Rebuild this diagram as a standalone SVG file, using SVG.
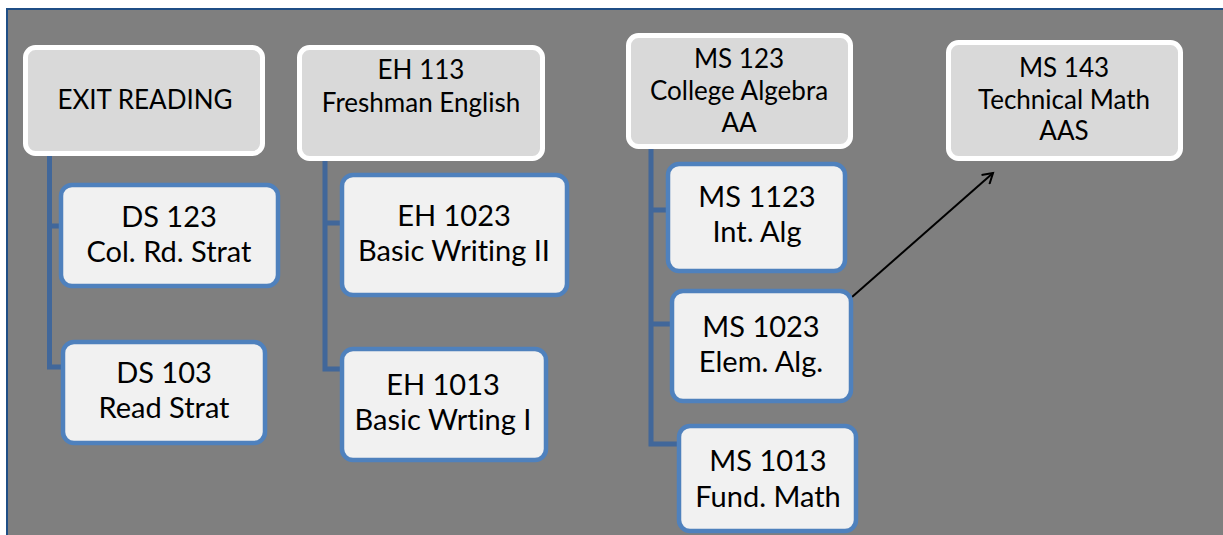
<svg xmlns="http://www.w3.org/2000/svg" width="1223" height="535" viewBox="0 0 1223 535">
<defs>
<style>
.parent rect{fill:#d9d9d9;stroke:#ffffff;stroke-width:5}
.child rect{fill:#f1f1f1;stroke:#4f81bd;stroke-width:4.5}
text{font-family:Lato,"Liberation Sans",sans-serif;fill:#000;text-anchor:middle;font-variant-ligatures:none}
.parent text{font-size:26px}
.child text{font-size:29px}
.conn{fill:none;stroke:#41679a;stroke-width:5}
</style>
<marker id="open" markerWidth="14" markerHeight="14" refX="11" refY="7" orient="auto" markerUnits="userSpaceOnUse">
<path d="M1,1 L11,7 L1,13" fill="none" stroke="#000" stroke-width="2"/>
</marker>
</defs>
<rect x="0" y="0" width="1223" height="535" fill="#ffffff"/>
<rect x="7" y="9" width="1222" height="532" fill="#7f7f7f" stroke="#1f4e85" stroke-width="2"/>
<g id="connectors">
<path class="conn" d="M49.5 156 V367 H63 M49.5 226 H61"/>
<path class="conn" d="M325 161 V369 H342 M325 223 H342"/>
<path class="conn" d="M651 149 V444 H679 M651 210 H668 M651 324 H672"/>
<line x1="852" y1="297" x2="993" y2="173" stroke="#000" stroke-width="2" marker-end="url(#open)"/>
</g>
<g id="exit-reading" class="parent">
<rect x="25.5" y="47.5" width="237" height="106" rx="10"/>
<text x="145" y="109">EXIT READING</text>
</g>
<g id="eh113" class="parent">
<rect x="299.5" y="47.5" width="243" height="111" rx="10"/>
<text x="421" y="79">EH 113</text>
<text x="421" y="112">Freshman English</text>
</g>
<g id="ms123" class="parent">
<rect x="628.5" y="35.5" width="222" height="111" rx="10"/>
<text x="739" y="68">MS 123</text>
<text x="739" y="100">College Algebra</text>
<text x="739" y="132">AA</text>
</g>
<g id="ms143" class="parent">
<rect x="948.5" y="42.5" width="232" height="116" rx="10"/>
<text x="1064" y="77">MS 143</text>
<text x="1064" y="109">Technical Math</text>
<text x="1064" y="140">AAS</text>
</g>
<g id="ds123" class="child">
<rect x="61" y="185" width="217" height="101" rx="11"/>
<text x="169" y="227">DS 123</text>
<text x="169" y="262">Col. Rd. Strat</text>
</g>
<g id="ds103" class="child">
<rect x="63" y="342" width="202" height="101" rx="11"/>
<text x="164" y="383">DS 103</text>
<text x="164" y="418">Read Strat</text>
</g>
<g id="eh1023" class="child">
<rect x="342" y="175" width="225" height="120" rx="11"/>
<text x="454" y="226">EH 1023</text>
<text x="454" y="261">Basic Writing II</text>
</g>
<g id="eh1013" class="child">
<rect x="342" y="349" width="204" height="111" rx="11"/>
<text x="443" y="395">EH 1013</text>
<text x="443" y="430">Basic Wrting I</text>
</g>
<g id="ms1123" class="child">
<rect x="668" y="164" width="177" height="107" rx="11"/>
<text x="757" y="207">MS 1123</text>
<text x="757" y="242">Int. Alg</text>
</g>
<g id="ms1023" class="child">
<rect x="672" y="291" width="179" height="110" rx="11"/>
<text x="761" y="337">MS 1023</text>
<text x="761" y="372">Elem. Alg.</text>
</g>
<g id="ms1013" class="child">
<rect x="679" y="426" width="177" height="105" rx="11"/>
<text x="768" y="471">MS 1013</text>
<text x="768" y="507">Fund. Math</text>
</g>
</svg>
